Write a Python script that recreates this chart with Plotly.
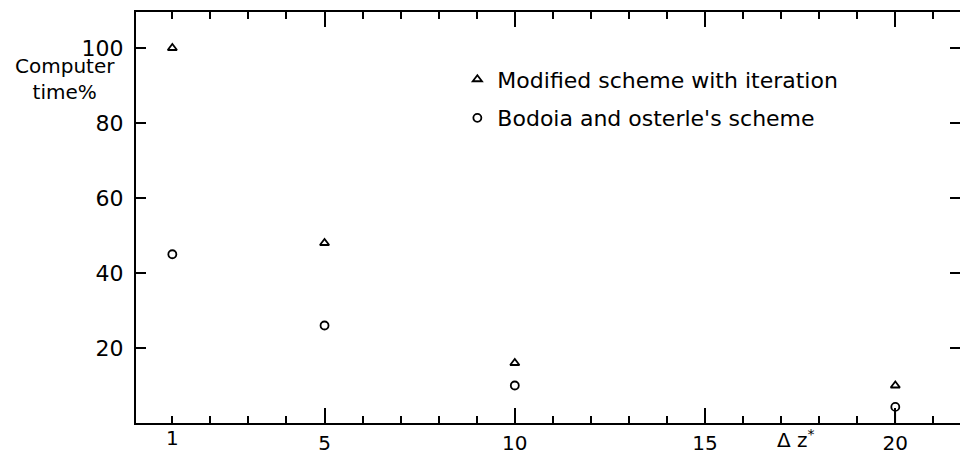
import plotly.graph_objects as go

dz = [1, 5, 10, 20]
modified_time = [100, 48, 16, 10]
bodoia_time = [45, 26, 10, 4.3]
bodoia_stem = [0, 0, 0, 4.3]
x_major_ticks = [5, 10, 15, 20]
x_first_tick = [1]
x_first_label = ["1"]
y_ticks = [20, 40, 60, 80, 100]

FONT = "DejaVu Sans"
fig = go.Figure()

fig.add_trace(go.Scatter(
    x=dz, y=bodoia_time, mode="markers", name="Bodoia and osterle's scheme",
    legendgroup="b", legendrank=2,
    marker=dict(symbol="circle", size=8, color="white", line=dict(color="black", width=1.8)),
    error_y=dict(type="data", symmetric=False, array=[0] * len(dz), arrayminus=bodoia_stem,
                 width=0, thickness=1.5, color="black"),
))
fig.add_trace(go.Scatter(
    x=dz, y=modified_time, mode="markers", name="Modified scheme with iteration",
    legendgroup="a", legendrank=1,
    marker=dict(symbol="triangle-up", size=8, color="white", line=dict(color="black", width=1.8)),
))
# helper trace so the secondary x axis (label "1") is drawn
fig.add_trace(go.Scatter(x=x_first_tick, y=[None], xaxis="x2", showlegend=False, hoverinfo="skip"))

xr = [0.045, 21.7]
fig.update_layout(
    width=960, height=455,
    margin=dict(l=136, r=0, t=12, b=32, autoexpand=False),
    plot_bgcolor="white", paper_bgcolor="white",
    font=dict(family=FONT, size=21, color="black"),
    showlegend=True,
    legend=dict(x=0.39, y=0.887, xanchor="left", yanchor="top", bgcolor="rgba(0,0,0,0)",
                tracegroupgap=7, font=dict(size=22), itemwidth=30),
    xaxis=dict(range=xr, tickmode="array", tickvals=x_major_ticks, ticks="inside", ticklen=15,
               tickwidth=2, tickcolor="black", showline=True, linecolor="black", linewidth=2,
               mirror="ticks", showgrid=False, zeroline=False, ticklabelstandoff=1,
               automargin=False,
               minor=dict(dtick=1, tick0=0, ticks="inside", ticklen=7, tickwidth=2, tickcolor="black"),
               tickfont=dict(size=20)),
    xaxis2=dict(range=xr, overlaying="x", anchor="y", side="bottom", tickmode="array",
                tickvals=x_first_tick, ticktext=x_first_label, ticks="", showline=False,
                showgrid=False, zeroline=False, ticklabelstandoff=1, automargin=False,
                tickfont=dict(size=20)),
    yaxis=dict(range=[0, 109.6], tickmode="array", tickvals=y_ticks, ticks="inside", ticklen=10,
               tickwidth=2, tickcolor="black", showline=True, linecolor="black", linewidth=2,
               mirror="ticks", showgrid=False, zeroline=False, ticklabelstandoff=6,
               automargin=False, tickfont=dict(size=22)),
    annotations=[
        dict(text="Computer<br>time%", xref="paper", yref="paper", x=(65 - 136) / 824,
             y=(423 - 79) / 411, xanchor="center", yanchor="middle", showarrow=False,
             align="center", font=dict(size=20)),
        dict(text="Δ z<sup>*</sup>", xref="x", yref="paper", x=17.4, y=-0.038,
             xanchor="center", yanchor="middle", showarrow=False, font=dict(size=20)),
    ],
)

fig.write_html("out.html", config={"displayModeBar": False},
               post_script="document.body.style.margin='0';document.body.style.overflow='hidden';")
